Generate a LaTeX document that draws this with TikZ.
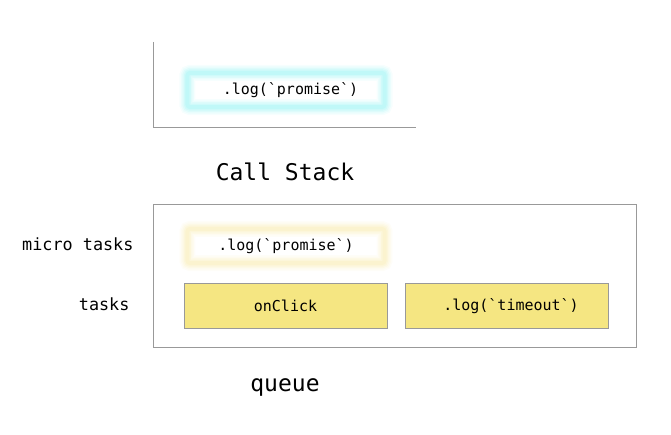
\documentclass[tikz,border=0pt]{standalone}
\usepackage{fontspec}
\setmonofont{DejaVu Sans Mono}
\usetikzlibrary{positioning,backgrounds}
\definecolor{glowcyan}{HTML}{8CF2F2}
\definecolor{glowyellow}{HTML}{F7E9A8}
\definecolor{taskfill}{HTML}{F5E682}
\definecolor{framegray}{HTML}{999999}

\begin{document}
\begin{tikzpicture}[x=1pt,y=-1pt,
  code/.style={font=\ttfamily\fontsize{15}{18}\selectfont},
  heading/.style={font=\ttfamily\fontsize{23}{28}\selectfont},
  rowlabel/.style={font=\ttfamily\fontsize{16.8}{20}\selectfont, anchor=east},
  glowbox/.style={code, minimum width=197pt, minimum height=34pt, inner sep=0pt},
  taskbox/.style={code, draw=framegray, line width=1pt, fill=taskfill, minimum width=203pt, minimum height=44pt, inner sep=0pt}]
  \useasboundingbox (0,0) rectangle (671,435);
  % call stack
  \draw[framegray, line width=1pt] (153,42) -- (153,128) -- (416,128);
  \node[glowbox] (frame) at (286,90) {\ .log(`promise`)};
  \node[heading] (stacktitle) at (285,172) {Call Stack};
  % queue
  \draw[framegray, line width=1pt] (153,205) rectangle (636,347);
  \node[glowbox] (micro) at (286,246) {.log(`promise`)};
  \node[taskbox] (onclick) at (285.5,306) {onClick};
  \node[taskbox, right=17pt of onclick] (timeout) {\ .log(`timeout`)};
  \node[rowlabel] (microlabel) at (137,244) {micro tasks};
  \node[rowlabel] (tasklabel) at (133,304) {tasks};
  \node[heading] (queuetitle) at (285,387) {queue};
  \begin{scope}[on background layer]
    \foreach \w/\o in {16/0.08, 13/0.1, 10/0.14, 7/0.18, 4/0.22} {
      \draw[glowcyan, line width=\w pt, opacity=\o, rounded corners=3pt] (frame.south west) rectangle (frame.north east);
      \draw[glowyellow, line width=\w pt, opacity=\o, rounded corners=3pt] (micro.south west) rectangle (micro.north east);
    }
  \end{scope}
\end{tikzpicture}
\end{document}
